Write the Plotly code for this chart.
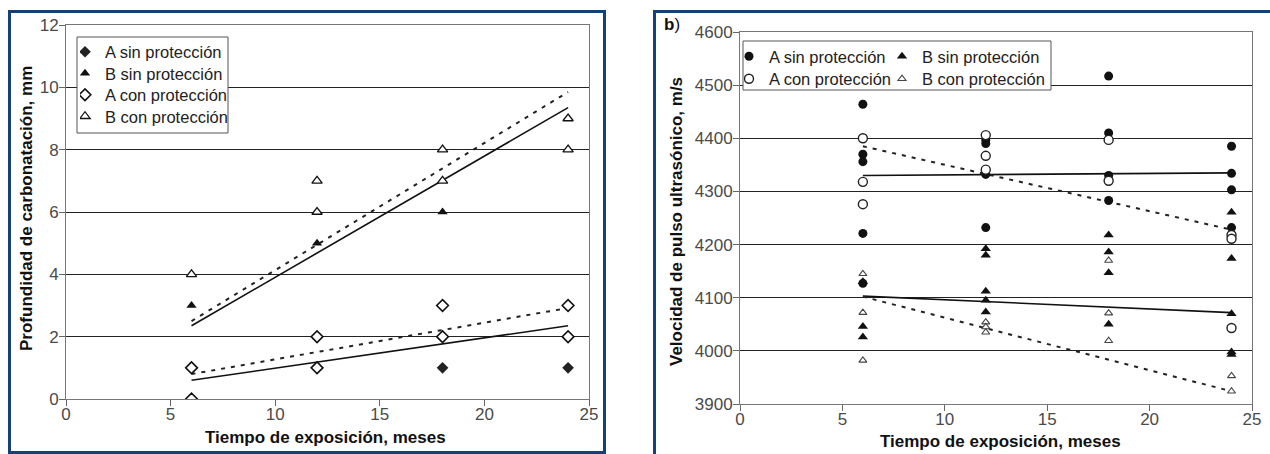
import plotly.graph_objects as go

# ---------------- data: panel a (carbonation depth, mm) ----------------
months_a_sin_l = [18, 24]
depth_a_sin = [1, 1]
months_b_sin_l = [6, 12, 18]
depth_b_sin = [3, 5, 6]
months_a_con_l = [6, 6, 12, 12, 18, 18, 24, 24]
depth_a_con = [1, 0, 2, 1, 3, 2, 3, 2]
months_b_con_l = [6, 12, 12, 18, 18, 24, 24]
depth_b_con = [4, 7, 6, 8, 7, 9, 8]

trend_months = [6, 24]
trend_depth_b_solid = [2.35, 9.35]
trend_depth_b_dash = [2.5, 9.85]
trend_depth_a_solid = [0.6, 2.35]
trend_depth_a_dash = [0.8, 2.92]

# ---------------- data: panel b (ultrasonic pulse velocity, m/s) ----------------
months_a_sin_r = [6, 6, 6, 6, 6, 12, 12, 12, 12, 18, 18, 18, 18, 24, 24, 24, 24]
vel_a_sin = [4464, 4370, 4356, 4221, 4127, 4397, 4390, 4332, 4232,
             4517, 4410, 4330, 4283, 4385, 4334, 4303, 4232]
months_a_con_r = [6, 6, 6, 12, 12, 12, 18, 18, 24, 24, 24]
vel_a_con = [4400, 4318, 4276, 4406, 4367, 4341, 4397, 4320, 4218, 4211, 4043]
months_b_sin_r = [6, 6, 6, 12, 12, 12, 12, 12, 18, 18, 18, 18, 24, 24, 24, 24, 24]
vel_b_sin = [4130, 4046, 4026, 4192, 4180, 4112, 4095, 4073,
             4218, 4186, 4147, 4050, 4261, 4174, 4070, 3998, 3993]
months_b_con_r = [6, 6, 6, 12, 12, 12, 18, 18, 18, 24, 24]
vel_b_con = [4145, 4072, 3982, 4054, 4045, 4035, 4170, 4071, 4019, 3953, 3924]

trend_vel_a_solid = [4330, 4335]
trend_vel_a_dash = [4385, 4228]
trend_vel_b_solid = [4103, 4072]
trend_vel_b_dash = [4102, 3924]

W, H = 1270, 454
FONT = "Liberation Sans, Arial, sans-serif"


def px(p):
    return p / W


def py(p):
    return 1 - p / H


fig = go.Figure()

BLACK = "#111111"
solid = dict(color=BLACK, width=1.6)
dashed = dict(color="#222222", width=2, dash="4px,6px")

# ---- panel a trend lines ----
for yv, ln in [(trend_depth_b_solid, solid), (trend_depth_b_dash, dashed),
               (trend_depth_a_solid, solid), (trend_depth_a_dash, dashed)]:
    fig.add_trace(go.Scatter(x=trend_months, y=yv, mode="lines", line=ln,
                             showlegend=False, hoverinfo="skip",
                             xaxis="x", yaxis="y"))

# ---- panel a markers (one legend per entry for precise row placement) ----
fig.add_trace(go.Scatter(x=months_a_sin_l, y=depth_a_sin, mode="markers",
                         name="A sin protección", legend="legend",
                         marker=dict(symbol="diamond", size=9, color="#222222"),
                         xaxis="x", yaxis="y"))
fig.add_trace(go.Scatter(x=months_b_sin_l, y=depth_b_sin, mode="markers",
                         name="B sin protección", legend="legend2",
                         marker=dict(symbol="triangle-up", size=9, color=BLACK),
                         xaxis="x", yaxis="y"))
fig.add_trace(go.Scatter(x=months_a_con_l, y=depth_a_con, mode="markers",
                         name="A con protección", legend="legend3",
                         marker=dict(symbol="diamond", size=9, color="white",
                                     line=dict(color=BLACK, width=1.6)),
                         xaxis="x", yaxis="y"))
fig.add_trace(go.Scatter(x=months_b_con_l, y=depth_b_con, mode="markers",
                         name="B con protección", legend="legend4",
                         marker=dict(symbol="triangle-up", size=9, color="white",
                                     line=dict(color=BLACK, width=1.3)),
                         xaxis="x", yaxis="y"))

# ---- panel b trend lines ----
for yv, ln in [(trend_vel_a_solid, solid), (trend_vel_a_dash, dashed),
               (trend_vel_b_solid, solid), (trend_vel_b_dash, dashed)]:
    fig.add_trace(go.Scatter(x=trend_months, y=yv, mode="lines", line=ln,
                             showlegend=False, hoverinfo="skip",
                             xaxis="x2", yaxis="y2"))

# ---- panel b markers ----
fig.add_trace(go.Scatter(x=months_a_sin_r, y=vel_a_sin, mode="markers",
                         name="A sin protección", legend="legend5",
                         marker=dict(symbol="circle", size=9, color=BLACK),
                         xaxis="x2", yaxis="y2"))
fig.add_trace(go.Scatter(x=months_a_con_r, y=vel_a_con, mode="markers",
                         name="A con protección", legend="legend6",
                         marker=dict(symbol="circle", size=9, color="white",
                                     line=dict(color="#222222", width=1.4)),
                         xaxis="x2", yaxis="y2"))
fig.add_trace(go.Scatter(x=months_b_sin_r, y=vel_b_sin, mode="markers",
                         name="B sin protección", legend="legend7",
                         marker=dict(symbol="triangle-up", size=9, color=BLACK),
                         xaxis="x2", yaxis="y2"))
fig.add_trace(go.Scatter(x=months_b_con_r, y=vel_b_con, mode="markers",
                         name="B con protección", legend="legend8",
                         marker=dict(symbol="triangle-up", size=7, color="white",
                                     line=dict(color="#444444", width=1.1)),
                         xaxis="x2", yaxis="y2"))

tickfont = dict(family=FONT, size=17, color="#4a4a4a")
axis_common = dict(showline=True, mirror=True, linecolor="#777777", linewidth=1,
                   ticks="outside", ticklen=6, tickcolor="#666666",
                   zeroline=False, tickfont=tickfont, fixedrange=True,
                   automargin=False)


def leg(xp, yp):
    return dict(x=px(xp), y=py(yp), xanchor="left", yanchor="middle",
                bgcolor="rgba(0,0,0,0)", borderwidth=0, indentation=-15,
                font=dict(family=FONT, size=16.5, color="#222222"))


fig.update_layout(
    width=W, height=H,
    margin=dict(l=0, r=0, t=0, b=0, pad=0, autoexpand=False),
    paper_bgcolor="white", plot_bgcolor="white",
    xaxis=dict(domain=[px(66), px(589)], range=[0, 25], dtick=5, anchor="y",
               showgrid=False, ticklabelstandoff=-6, **axis_common),
    yaxis=dict(domain=[py(399), py(25)], range=[0, 12], dtick=2, anchor="x",
               showgrid=True, gridcolor="#222222", gridwidth=1,
               ticklabelstandoff=-3, **axis_common),
    xaxis2=dict(domain=[px(740), px(1252)], range=[0, 25], dtick=5, anchor="y2",
                showgrid=False, ticklabelstandoff=-6, **axis_common),
    yaxis2=dict(domain=[py(404), py(32)], range=[3900, 4600], dtick=100, anchor="x2",
                showgrid=True, gridcolor="#222222", gridwidth=1,
                ticklabelstandoff=-3, **axis_common),
    legend=leg(80, 52),
    legend2=leg(80, 73.5),
    legend3=leg(80, 95),
    legend4=leg(80, 116.5),
    legend5=leg(744, 56.5),
    legend6=leg(744, 79),
    legend7=leg(897, 56.5),
    legend8=leg(897, 79),
    showlegend=True,
)

# panel borders and legend boxes
border = "#16407a"
fig.add_shape(type="rect", xref="paper", yref="paper",
              x0=px(9.5), x1=px(604.5), y0=py(452.5), y1=py(11.5),
              line=dict(color=border, width=3), layer="above")
fig.add_shape(type="rect", xref="paper", yref="paper",
              x0=px(654.5), x1=px(1290), y0=py(470), y1=py(11.5),
              line=dict(color=border, width=3), layer="above")
fig.add_shape(type="rect", xref="paper", yref="paper",
              x0=px(77), x1=px(228), y0=py(133), y1=py(37),
              fillcolor="white", line=dict(color="#555555", width=1), layer="above")
fig.add_shape(type="rect", xref="paper", yref="paper",
              x0=px(743), x1=px(1051), y0=py(90), y1=py(41),
              fillcolor="white", line=dict(color="#555555", width=1), layer="above")

title_font = dict(family=FONT, size=17, color="#111111")
fig.add_annotation(text="<b>Tiempo de exposición, meses</b>", xref="paper", yref="paper",
                   x=px(325), y=py(437), showarrow=False, font=title_font,
                   xanchor="center", yanchor="middle")
fig.add_annotation(text="<b>Profundidad de carbonatación, mm</b>", xref="paper", yref="paper",
                   x=px(26), y=py(209), showarrow=False, font=title_font, textangle=-90,
                   xanchor="center", yanchor="middle")
fig.add_annotation(text="<b>Tiempo de exposición, meses</b>", xref="paper", yref="paper",
                   x=px(1001), y=py(441), showarrow=False, font=title_font,
                   xanchor="center", yanchor="middle")
fig.add_annotation(text="<b>Velocidad de pulso ultrasónico, m/s</b>", xref="paper", yref="paper",
                   x=px(676), y=py(222), showarrow=False, font=title_font, textangle=-90,
                   xanchor="center", yanchor="middle")
fig.add_annotation(text="<b>b</b>)", xref="paper", yref="paper",
                   x=px(662), y=py(25), showarrow=False, font=title_font,
                   xanchor="left", yanchor="middle")

fig.write_html("out.html")
